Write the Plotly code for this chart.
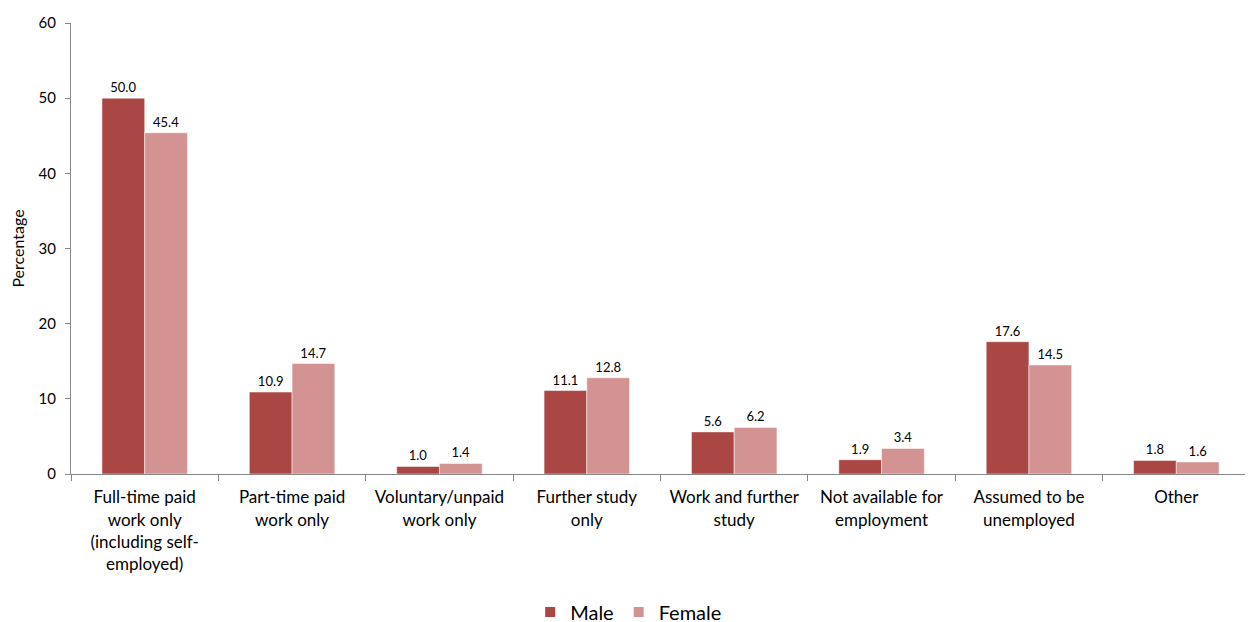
import plotly.graph_objects as go

categories = [
    "Full-time paid<br>work only<br>(including self-<br>employed)",
    "Part-time paid<br>work only",
    "Voluntary/unpaid<br>work only",
    "Further study<br>only",
    "Work and further<br>study",
    "Not available for<br>employment",
    "Assumed to be<br>unemployed",
    "Other",
]
male = [50.0, 10.9, 1.0, 11.1, 5.6, 1.9, 17.6, 1.8]
female = [45.4, 14.7, 1.4, 12.8, 6.2, 3.4, 14.5, 1.6]

FONT = "Lato, 'Open Sans', sans-serif"

fig = go.Figure()
for name, vals, color in [("Male", male, "#AA4744"), ("Female", female, "#D39392")]:
    fig.add_trace(go.Bar(
        x=categories, y=vals, name=name, marker_color=color,
        text=[f"{v:.1f}" for v in vals], textposition="outside",
        textfont=dict(size=13, color="#000000"), cliponaxis=False,
    ))

# the page body adds an 8px margin, so margins are shifted to compensate
fig.update_layout(
    width=1253, height=622, template="plotly_white",
    plot_bgcolor="white", paper_bgcolor="white",
    font=dict(family=FONT, color="#000000"),
    barmode="group", bargap=0.42, bargroupgap=0,
    margin=dict(l=63, r=11, t=15, b=156, autoexpand=False),
    showlegend=True,
    legend=dict(orientation="h", x=0.473, xanchor="center", y=-0.306, yanchor="middle",
                font=dict(size=20), itemsizing="constant", itemwidth=30),
)
fig.update_xaxes(
    automargin=False,
    showgrid=False, showline=True, linecolor="#868686", linewidth=1,
    ticks="outside", tickson="boundaries", tickcolor="#868686", ticklen=6,
    tickfont=dict(size=17), tickangle=0, ticklabelstandoff=8,
)
fig.update_yaxes(
    automargin=False,
    range=[0, 60], dtick=10, showgrid=False, zeroline=False,
    showline=True, linecolor="#868686", linewidth=1,
    ticks="outside", tickcolor="#868686", ticklen=5,
    tickfont=dict(size=15), ticklabelstandoff=6,
    title=dict(text="Percentage", font=dict(size=16), standoff=16),
)

fig.write_html("out.html")
